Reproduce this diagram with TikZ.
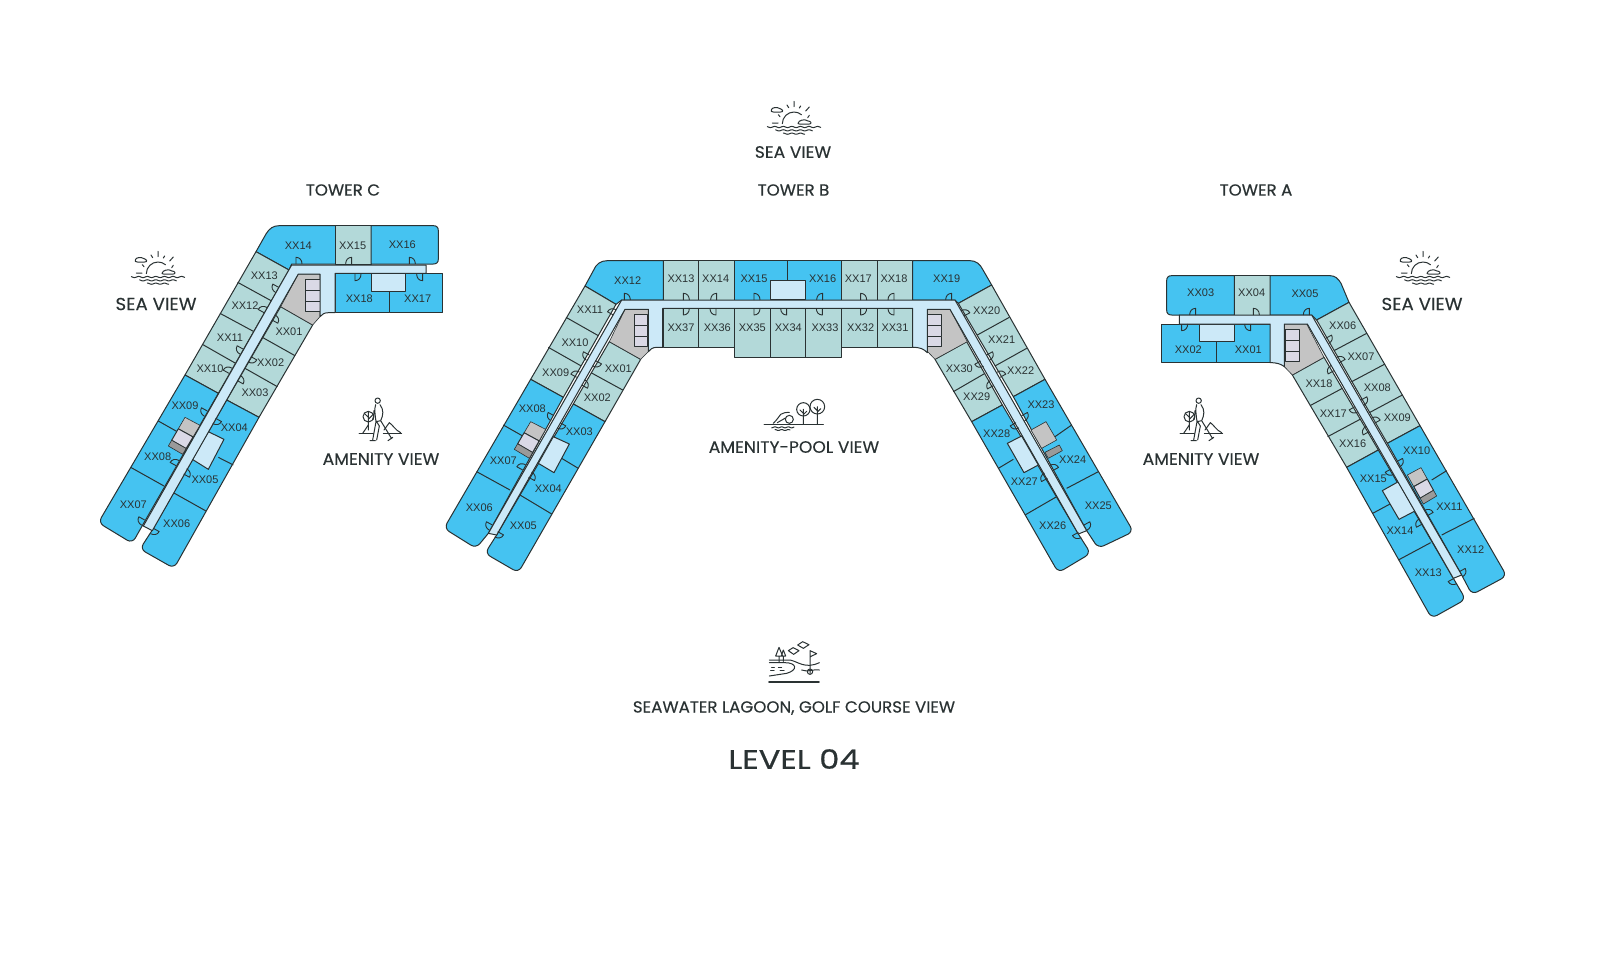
\documentclass[tikz,border=0pt]{standalone}
\usepackage{fontspec}
\setmainfont{Liberation Sans}
\newfontfamily\hd[FakeBold=.2,FakeStretch=1.04]{Poppins}
\newfontfamily\hdt[FakeBold=.5,FakeStretch=1.04]{Poppins}
\newfontfamily\hdl[FakeBold=.6,FakeStretch=1.2]{Poppins}
\usetikzlibrary{calc}
\definecolor{rblue}{HTML}{45C3F1}
\definecolor{rgreen}{HTML}{B3D9D9}
\definecolor{rcorr}{HTML}{CCE9F8}
\definecolor{rgrey}{HTML}{C4C4C4}
\definecolor{rlav}{HTML}{DAD9E6}
\definecolor{rdark}{HTML}{9A9A9A}
\definecolor{ink}{HTML}{2A3233}
\tikzset{
 bl/.style={draw=ink,fill=rblue,line width=1pt,line join=round},
 gr/.style={draw=ink,fill=rgreen,line width=1pt,line join=round},
 co/.style={draw=ink,fill=rcorr,line width=1pt,line join=round},
 gy/.style={draw=ink,fill=rgrey,line width=.6pt,line join=round},
 lv/.style={draw=ink,fill=rlav,line width=1pt,line join=round},
 dk/.style={draw=ink,fill=rdark,line width=.6pt,line join=round},
 dv/.style={draw=ink,line width=1pt},
 doorst/.style={draw=ink,line width=.9pt,line join=round},
 roomlabel/.style={font=\fontsize{11}{11}\selectfont,text=ink,inner sep=0pt},
 head/.style={font=\hd\fontsize{16.5}{16.5}\selectfont,text=ink,inner sep=0pt},
 icon/.style={draw=ink,line width=1pt,line cap=round,line join=round},
 zoomu/.style={x=.33333pt,y=-.33333pt},
}
\newcommand\rl[3]{\node[roomlabel] (\tw-#3) at (#1,#2) {#3};}
\newcommand\door[4]{\draw[doorst,shift={(#1,#2)},rotate=#3,yscale=#4] (0,0)--(20,0) .. controls (20,11) and (12,18) .. (0,18);}
\newcommand\midcore[4]{%
 \coordinate (ma) at (#1);\coordinate (mb) at (#2);\coordinate (mc) at (#3);\coordinate (md) at (#4);
 \draw[gy] (ma)--(mb)--($(mb)!.40!(mc)$)--($(ma)!.40!(md)$)--cycle;
 \draw[lv] ($(ma)!.40!(md)$)--($(mb)!.40!(mc)$)--($(mb)!.80!(mc)$)--($(ma)!.80!(md)$)--cycle;
 \draw[dk] ($(ma)!.80!(md)$)--($(mb)!.80!(mc)$)--(mc)--(md)--cycle;}
\newcommand\seaicon[2]{%
 \begin{scope}[shift={(#1,#2)},zoomu]
 \draw[icon] (-35,5) arc[start angle=180,end angle=310,radius=35];
 \draw[icon,fill=white] (-68,-36) .. controls (-68,-44) and (-50,-46) .. (-42,-40) .. controls (-34,-38) and (-30,-30) .. (-40,-30) -- (-62,-30) .. controls (-68,-30) and (-70,-33) .. (-68,-36);
 \draw[icon,fill=white] (12,4) .. controls (14,-6) and (32,-10) .. (42,-3) .. controls (52,-3) and (54,6) .. (46,6) -- (16,6) .. controls (12,6) and (11,5) .. (12,4);
 \draw[icon] (0,-62)--(0,-46) (-21,-51)--(-16,-43) (20,-48)--(16,-42) (46,-45)--(35,-33) (-47,-22)--(-42,-16) (46,-20)--(41,-13) (-65,3)--(-48,3);
 \draw[icon] plot[domain=-80:80,samples=40,smooth] (\x,{15+1.8*sin(\x*14)});
 \draw[icon] plot[domain=-55:55,samples=30,smooth] (\x,{25+1.8*sin(\x*14)});
 \draw[icon] plot[domain=-32:32,samples=20,smooth] (\x,{35+1.8*sin(\x*14)});
 \end{scope}}
\newcommand\walkicon[2]{%
 \begin{scope}[shift={(#1,#2)},zoomu]
 \draw[icon] (113,62) circle[radius=8];
 \draw[icon] (85,110) circle[radius=16];
 \draw[icon] (85,95)--(85,150) (85,112)--(73,100) (85,118)--(97,106);
 \draw[icon] (57,160)--(100,160) (130,160)--(185,160);
 \draw[icon] (68,160)--(85,135) (132,150)--(148,128) .. controls (158,134) and (165,150) .. (182,158);
 \draw[icon] (107,74) .. controls (102,85) and (106,110) .. (108,125) -- (98,180) (120,74) .. controls (132,90) and (130,105) .. (122,122) -- (155,176) (108,125)--(122,122) (108,122)--(118,138) -- (110,180) (102,92)--(100,118) (90,182)--(106,182) (144,182)--(158,172);
 \end{scope}}
\newcommand\poolicon[2]{%
 \begin{scope}[shift={(#1,#2)},zoomu]
 \draw[icon] (340,88) circle[radius=20];
 \draw[icon] (382,80) circle[radius=22];
 \draw[icon] (340,88)--(340,132) (382,80)--(382,132) (340,100)--(330,90) (340,104)--(350,94) (382,92)--(372,82) (382,96)--(392,86);
 \draw[icon] (298,118) circle[radius=12];
 \draw[icon] (222,132)--(400,132);
 \draw[icon] (250,130) .. controls (262,118) and (268,108) .. (272,103) .. controls (280,98) and (290,96) .. (298,97) (262,128) .. controls (272,122) and (280,118) .. (286,114);
 \draw[icon] plot[domain=245:312,samples=24,smooth] (\x,{142+1.5*sin(\x*18)});
 \draw[icon] plot[domain=255:300,samples=18,smooth] (\x,{150+1.5*sin(\x*18)});
 \end{scope}}
\newcommand\golficon[2]{%
 \begin{scope}[shift={(#1,#2)},zoomu]
 \draw[icon,line width=1.8pt] (477,185)--(627,185);
 \draw[icon] (478,120)--(540,120) .. controls (565,125) and (585,148) .. (628,128);
 \draw[icon] (478,128)--(525,128) .. controls (560,128) and (565,150) .. (530,160) -- (478,168);
 \draw[icon] (575,150) .. controls (595,158) and (612,146) .. (628,150);
 \draw[icon] (507,82)--(497,108)--(518,108)--cycle (507,108)--(507,128) (520,90)--(514,108) (520,90)--(527,108)--(514,108) (520,108)--(520,124);
 \draw[icon] (535,92)--(549,83)--(567,92)--(551,103)--cycle (563,75)--(578,65)--(597,74)--(580,85)--cycle;
 \draw[icon] (600,92)--(600,160) (600,92)--(620,101)--(601,110);
 \draw[icon] (600,155) circle[radius=8];
 \draw[icon] (485,143)--(493,143) (505,143)--(515,143) (482,152)--(492,152) (510,152)--(522,152);
 \end{scope}}
\begin{document}
\begin{tikzpicture}[x=1pt,y=-1pt]
\useasboundingbox (0,0) rectangle (1600,964);
\fill[white] (0,0) rectangle (1600,964);

%%% TOWER C
\begin{scope}[shift={(90,200)},zoomu]
\def\tw{C}
\draw[bl] (498,155) -- (528,102) .. controls (538,85) and (550,77) .. (568,77) -- (737,77) -- (737,192) -- (605,192) -- (597,210) -- cycle;
\draw[gr] (737,77) rectangle (843,192);
\draw[bl] (843,77) -- (1030,77) .. controls (1040,77) and (1045,82) .. (1045,92) -- (1045,177) .. controls (1045,187) and (1040,192) .. (1030,192) -- (843,192) -- cycle;
\draw[gr] (498,155) -- (597,210) -- (385,580) -- (285,525) -- cycle;
\draw[bl] (285,525) -- (385,580) -- (158,975) [rounded corners=6pt] -- (127,1030) -- (25,968) [sharp corners] -- cycle;
\draw[gr] (572,320) -- (668,375) -- (507,652) -- (410,600) -- cycle;
\draw[bl] (410,600) -- (507,652) [rounded corners=6pt] -- (252,1105) -- (150,1047) [sharp corners] -- (187,990) -- cycle;
\foreach \a/\b/\c/\d in {443/247/545/303,390/340/492/395,337/433/437/490,205/663/265/697,122/802/222/858,517/412/615/467,465/505/562/560,385/772/430/795,250/878/348/933}
  {\draw[dv] (\a,\b)--(\c,\d);}
\draw[gy] (625,222) -- (690,222) -- (690,350) -- (668,375) -- (572,320) -- cycle;
\draw[lv] (647,238) rectangle (690,270);
\draw[lv] (647,270) rectangle (690,303);
\draw[lv] (647,303) rectangle (690,335);
\midcore{285,652}{330,676}{278,763}{235,738}
\draw[co] (355,695) -- (402,718) -- (355,808) -- (307,778) -- cycle;
\draw[bl] (735,220) rectangle (897,338);
\draw[bl] (897,220) rectangle (1058,338);
\draw[co] (845,220) rectangle (947,275);
\draw[co] (605,195) -- (1008,195) -- (1008,220) -- (735,220) -- (735,338) -- (716,338) .. controls (704,338) and (696,342) .. (690,350) -- (690,222) -- (625,222) -- (187,992) -- (160,978) -- cycle;
\door{618}{192}{90}{1}\door{785}{192}{90}{-1}\door{958}{192}{90}{1}
\door{795}{222}{-90}{-1}\door{998}{222}{-90}{1}
\door{566}{262}{151}{-1}\door{522}{338}{151}{1}\door{459}{447}{151}{-1}\door{417}{520}{151}{1}\door{352}{633}{151}{-1}\door{258}{797}{151}{1}\door{164}{960}{151}{-1}
\door{546}{360}{-29}{-1}\door{483}{470}{-29}{1}\door{442}{542}{-29}{-1}\door{377}{655}{-29}{1}\door{281}{822}{-29}{-1}\door{190}{985}{-29}{1}
\rl{625}{137}{XX14}\rl{788}{137}{XX15}\rl{937}{135}{XX16}\rl{523}{228}{XX13}\rl{465}{317}{XX12}\rl{420}{412}{XX11}\rl{360}{505}{XX10}\rl{285}{618}{XX09}\rl{203}{770}{XX08}\rl{130}{913}{XX07}\rl{597}{395}{XX01}\rl{542}{487}{XX02}\rl{495}{577}{XX03}\rl{433}{682}{XX04}\rl{345}{838}{XX05}\rl{260}{970}{XX06}\rl{808}{297}{XX18}\rl{983}{297}{XX17}
\end{scope}

%%% TOWER B
\begin{scope}[shift={(430,240)},zoomu]
\def\tw{B}
\draw[bl] (465,138) -- (490,92) .. controls (498,72) and (512,62) .. (532,62) -- (700,62) -- (700,180) -- (575,180) -- (558,193) -- cycle;
\foreach \a/\b in {700/805,805/912} {\draw[gr] (\a,62) rectangle (\b,180);}
\draw[bl] (912,62) rectangle (1072,180);
\draw[gr] (465,138) -- (558,193) -- (400,472) -- (302,418) -- cycle;
\draw[bl] (302,418) -- (400,472) -- (175,880) [rounded corners=6pt] -- (138,925) -- (42,865) [sharp corners] -- cycle;
\draw[gr] (538,305) -- (632,358) -- (525,545) -- (430,492) -- cycle;
\draw[bl] (430,492) -- (525,545) [rounded corners=6pt] -- (265,998) -- (165,940) [sharp corners] -- (200,885) -- cycle;
\foreach \a/\b/\c/\d in {408/232/505/287,355/322/452/377,220/555/285/592,140/695/240/750,483/398/578/450,395/655/445/685,270/765/365/822}
  {\draw[dv] (\a,\b)--(\c,\d);}
\foreach \a/\b in {700/805,805/912} {\draw[gr] (\a,205) rectangle (\b,322);}
\draw[gr] (912,205) rectangle (1020,352);
\draw[gy] (585,208) -- (655,208) -- (655,335) -- (632,358) -- (538,305) -- cycle;
\draw[lv] (612,222) rectangle (653,255);
\draw[lv] (612,255) rectangle (653,288);
\draw[lv] (612,288) rectangle (653,320);
\midcore{302,545}{347,568}{298,655}{253,628}
\draw[co] (370,590) -- (418,612) -- (372,698) -- (325,670) -- cycle;
\begin{scope}[shift={(1020,0)}]
\draw[bl] (52,62) rectangle (215,180);
\draw[gr] (215,62) rectangle (322,180);
\draw[gr] (322,62) rectangle (428,180);
\draw[bl] (428,62) -- (600,62) .. controls (618,62) and (630,72) .. (638,88) -- (665,135) -- (565,190) -- (555,180) -- (428,180) -- cycle;
\draw[gr] (665,135) -- (825,418) -- (730,470) -- (565,190) -- cycle;
\draw[bl] (825,418) [rounded corners=6pt] -- (1090,875) -- (985,925) [sharp corners] -- (950,872) -- (730,470) -- cycle;
\draw[gr] (495,358) -- (590,305) -- (697,495) -- (605,545) -- cycle;
\draw[bl] (605,545) -- (697,495) -- (925,882) [rounded corners=6pt] -- (962,940) -- (865,998) [sharp corners] -- cycle;
\foreach \a/\b/\c/\d in {622/285/718/232,675/378/770/325,855/590/905/555,890/745/985/695,550/455/645/400,685/685/730/658,765/825/860/770}
  {\draw[dv] (\a,\b)--(\c,\d);}
\draw[gr] (0,205) rectangle (107,352);
\draw[gr] (107,205) rectangle (215,352);
\draw[gr] (215,205) rectangle (322,322);
\draw[gr] (322,205) rectangle (428,322);
\draw[co] (0,122) rectangle (107,178);
\draw[gy] (473,208) -- (540,208) -- (592,305) -- (495,358) -- (473,335) -- cycle;
\draw[lv] (473,222) rectangle (515,255);
\draw[lv] (473,255) rectangle (515,288);
\draw[lv] (473,288) rectangle (515,320);
\draw[co] (712,610) -- (755,588) -- (805,675) -- (762,698) -- cycle;
\draw[gy] (783,570) -- (828,545) -- (860,600) -- (815,625) -- cycle;
\draw[dk] (825,637) -- (868,615) -- (877,632) -- (835,655) -- cycle;
\end{scope}
\draw[co] (575,180) -- (1575,180) -- (1970,872) -- (1945,882) -- (1560,208) -- (1492,208) -- (1492,338) .. controls (1480,326) and (1470,322) .. (1448,322) -- (1448,205) -- (698,205) -- (698,322) -- (680,322) .. controls (668,322) and (660,328) .. (655,335) -- (655,208) -- (585,208) -- (200,885) -- (175,880) -- cycle;
\foreach \a/\f in {583/1,760/1,860/-1,972/1,1178/-1,1292/1,1392/-1,1565/-1} {\door{\a}{180}{90}{\f}}
\foreach \a/\f in {760/-1,858/1,972/-1,1070/1,1177/1,1292/-1,1392/1} {\door{\a}{205}{-90}{\f}}
\door{550}{225}{151}{1}\door{478}{345}{151}{-1}\door{440}{412}{151}{1}\door{372}{527}{151}{-1}\door{278}{690}{151}{1}\door{187}{855}{151}{-1}
\door{497}{362}{-29}{1}\door{455}{435}{-29}{-1}\door{390}{548}{-29}{1}\door{296}{712}{-29}{-1}\door{203}{875}{-29}{1}
\begin{scope}[shift={(1020,0)}]
\door{582}{228}{29}{-1}\door{650}{345}{29}{1}\door{690}{412}{29}{-1}\door{755}{527}{29}{1}\door{848}{692}{29}{-1}\door{942}{855}{29}{1}
\door{632}{363}{209}{-1}\door{670}{437}{209}{1}\door{738}{548}{209}{-1}\door{832}{715}{209}{1}\door{925}{877}{209}{-1}
\rl{55}{262}{XX34}\rl{165}{262}{XX33}\rl{272}{262}{XX32}\rl{375}{262}{XX31}\rl{158}{116}{XX16}\rl{265}{116}{XX17}\rl{372}{116}{XX18}\rl{530}{116}{XX19}\rl{650}{213}{XX20}\rl{695}{300}{XX21}\rl{752}{392}{XX22}\rl{813}{493}{XX23}\rl{908}{660}{XX24}\rl{985}{796}{XX25}\rl{568}{385}{XX30}\rl{620}{470}{XX29}\rl{680}{580}{XX28}\rl{763}{725}{XX27}\rl{848}{858}{XX26}
\end{scope}
\rl{593}{122}{XX12}\rl{753}{116}{XX13}\rl{857}{116}{XX14}\rl{972}{116}{XX15}\rl{753}{262}{XX37}\rl{862}{262}{XX36}\rl{967}{262}{XX35}\rl{480}{210}{XX11}\rl{435}{307}{XX10}\rl{377}{397}{XX09}\rl{307}{507}{XX08}\rl{220}{662}{XX07}\rl{148}{802}{XX06}\rl{565}{387}{XX01}\rl{502}{473}{XX02}\rl{448}{575}{XX03}\rl{355}{745}{XX04}\rl{280}{858}{XX05}
\end{scope}

%%% TOWER A
\begin{scope}[shift={(1130,250)},zoomu]
\def\tw{A}
\draw[bl] (313,77) -- (125,77) .. controls (115,77) and (110,82) .. (110,92) -- (110,180) .. controls (110,190) and (115,195) .. (125,195) -- (313,195) -- cycle;
\draw[gr] (313,77) rectangle (420,195);
\draw[bl] (420,77) -- (600,77) .. controls (615,77) and (625,86) .. (633,100) -- (657,157) -- (560,210) -- (545,195) -- (420,195) -- cycle;
\draw[gr] (657,157) -- (870,527) -- (772,580) -- (560,210) -- cycle;
\draw[bl] (870,527) [rounded corners=6pt] -- (1130,978) -- (1026,1034) [sharp corners] -- (995,975) -- (772,580) -- cycle;
\draw[gr] (487,375) -- (582,322) -- (745,600) -- (650,652) -- cycle;
\draw[bl] (650,652) -- (745,600) -- (970,985) [rounded corners=6pt] -- (1007,1048) -- (905,1105) [sharp corners] -- cycle;
\foreach \a/\b/\c/\d in {612/302/710/250,665/395/765/342,718/488/817/435,905/690/950/662,935/855/1033/805,540/467/637/415,593/560/690/508,728/790/780/762,805/930/902/878}
  {\draw[dv] (\a,\b)--(\c,\d);}
\draw[bl] (95,222) rectangle (260,338);
\draw[bl] (260,222) rectangle (420,338);
\draw[co] (207,222) rectangle (313,275);
\draw[gy] (463,222) -- (530,222) -- (582,322) -- (487,375) -- (463,350) -- cycle;
\draw[lv] (467,238) rectangle (508,270);
\draw[lv] (467,270) rectangle (508,303);
\draw[lv] (467,303) rectangle (508,335);
\midcore{832,675}{873,653}{920,738}{880,762}
\draw[co] (757,722) -- (805,695) -- (855,783) -- (807,808) -- cycle;
\draw[co] (148,195) -- (545,195) -- (995,975) -- (970,985) -- (532,222) -- (463,222) -- (463,350) .. controls (452,342) and (442,338) .. (420,338) -- (420,222) -- (148,222) -- cycle;
\door{197}{195}{90}{-1}\door{370}{195}{90}{1}\door{538}{195}{90}{-1}
\door{155}{222}{-90}{-1}\door{362}{222}{-90}{1}
\door{587}{265}{29}{1}\door{628}{338}{29}{-1}\door{693}{450}{29}{1}\door{733}{520}{29}{-1}\door{800}{635}{29}{1}\door{892}{797}{29}{-1}\door{988}{965}{29}{1}
\door{612}{362}{209}{1}\door{675}{470}{209}{-1}\door{717}{545}{209}{1}\door{783}{657}{209}{-1}\door{877}{822}{209}{1}\door{972}{985}{209}{-1}
\rl{212}{127}{XX03}\rl{365}{127}{XX04}\rl{525}{131}{XX05}\rl{175}{300}{XX02}\rl{355}{298}{XX01}\rl{638}{228}{XX06}\rl{693}{320}{XX07}\rl{742}{412}{XX08}\rl{802}{502}{XX09}\rl{860}{603}{XX10}\rl{958}{770}{XX11}\rl{1022}{898}{XX12}\rl{567}{402}{XX18}\rl{610}{492}{XX17}\rl{668}{580}{XX16}\rl{730}{685}{XX15}\rl{810}{842}{XX14}\rl{895}{967}{XX13}
\end{scope}

%%% Icons
\seaicon{794}{122}
\seaicon{158}{272}
\seaicon{1423}{272}
\walkicon{340}{380}
\walkicon{1161}{380}
\poolicon{690}{380}
\golficon{610}{620}

%%% Headings
\node[head] (seaTop) at (793,152) {SEA VIEW};
\node[head] (towerB) at (793.5,190) {\hdt\fontsize{16}{16}\selectfont TOWER B};
\node[head] (towerC) at (343,190) {\hdt\fontsize{16}{16}\selectfont TOWER C};
\node[head] (towerA) at (1256,190) {\hdt\fontsize{16}{16}\selectfont TOWER A};
\node[head] (seaC) at (156,304) {\fontsize{17.5}{17.5}\selectfont SEA VIEW};
\node[head] (seaA) at (1422,304) {\fontsize{17.5}{17.5}\selectfont SEA VIEW};
\node[head] (amenC) at (381,459) {AMENITY VIEW};
\node[head] (amenA) at (1201,459) {AMENITY VIEW};
\node[head] (pool) at (794,447) {AMENITY-POOL VIEW};
\node[head] (lagoon) at (794,708) {\fontsize{16}{16}\selectfont SEAWATER LAGOON, GOLF COURSE VIEW};
\node[head] (level) at (794,759) {\hdl\fontsize{26.7}{26.7}\selectfont LEVEL 04};
\end{tikzpicture}
\end{document}
